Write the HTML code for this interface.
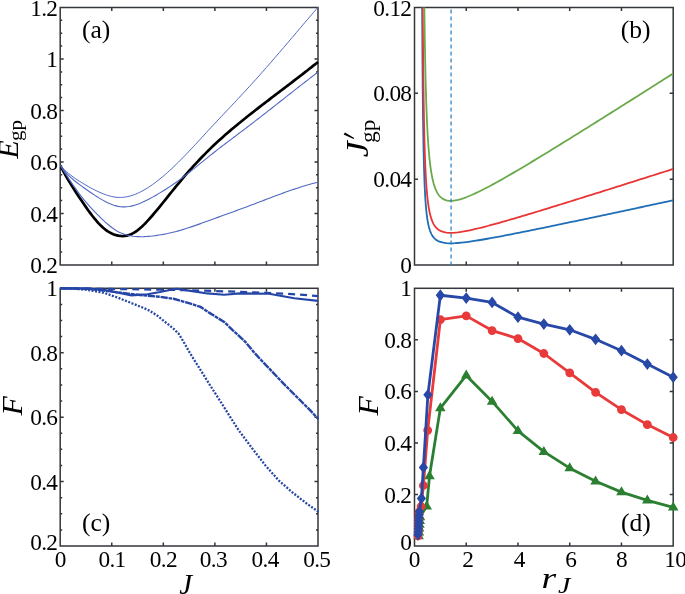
<!DOCTYPE html>
<html><head><meta charset="utf-8"><style>
html,body{margin:0;padding:0;background:#fff;}
svg{display:block;}
text{font-family:"Liberation Serif",serif;fill:#000;}
svg{will-change:transform;}
</style></head><body>
<svg width="685" height="594" viewBox="0 0 685 594">
<defs>
<clipPath id="cA"><rect x="60.20" y="6.50" width="258.80" height="258.50"/></clipPath>
<clipPath id="cC"><rect x="60.20" y="286.80" width="258.80" height="259.20"/></clipPath>
<clipPath id="cB"><rect x="414.50" y="7.50" width="258.70" height="257.50"/></clipPath>
<clipPath id="cD"><rect x="408.50" y="280.30" width="272.70" height="265.70"/></clipPath>
</defs>
<rect x="60.20" y="7.50" width="257.80" height="257.50" fill="none" stroke="#33363a" stroke-width="1.50"/>
<path d="M111.76,265.00v-3.50 M111.76,7.50v3.50 M163.32,265.00v-3.50 M163.32,7.50v3.50 M214.88,265.00v-3.50 M214.88,7.50v3.50 M266.44,265.00v-3.50 M266.44,7.50v3.50 M60.20,213.50h3.50 M318.00,213.50h-3.50 M60.20,162.00h3.50 M318.00,162.00h-3.50 M60.20,110.50h3.50 M318.00,110.50h-3.50 M60.20,59.00h3.50 M318.00,59.00h-3.50 M60.20,252.12h2.00 M318.00,252.12h-2.00 M60.20,239.25h2.00 M318.00,239.25h-2.00 M60.20,226.37h2.00 M318.00,226.37h-2.00 M60.20,200.62h2.00 M318.00,200.62h-2.00 M60.20,187.75h2.00 M318.00,187.75h-2.00 M60.20,174.87h2.00 M318.00,174.87h-2.00 M60.20,149.12h2.00 M318.00,149.12h-2.00 M60.20,136.25h2.00 M318.00,136.25h-2.00 M60.20,123.37h2.00 M318.00,123.37h-2.00 M60.20,97.62h2.00 M318.00,97.62h-2.00 M60.20,84.75h2.00 M318.00,84.75h-2.00 M60.20,71.88h2.00 M318.00,71.88h-2.00 M60.20,46.12h2.00 M318.00,46.12h-2.00 M60.20,33.25h2.00 M318.00,33.25h-2.00 M60.20,20.37h2.00 M318.00,20.37h-2.00" stroke="#33363a" stroke-width="1.5" fill="none"/>
<g clip-path="url(#cA)">
<path d="M60.20,165.35 L62.35,169.48 L64.50,173.44 L66.65,177.24 L68.79,180.89 L70.94,184.42 L73.09,187.84 L75.24,191.18 L77.39,194.45 L79.53,197.67 L81.68,200.86 L83.83,204.02 L85.98,207.13 L88.13,210.17 L90.28,213.12 L92.43,215.96 L94.57,218.67 L96.72,221.23 L98.87,223.61 L101.02,225.80 L103.17,227.77 L105.31,229.53 L107.46,231.07 L109.61,232.40 L111.76,233.52 L113.91,234.43 L116.06,235.14 L118.21,235.65 L120.35,235.96 L122.50,236.06 L124.65,235.94 L126.80,235.59 L128.95,235.02 L131.10,234.20 L133.24,233.14 L135.39,231.84 L137.54,230.32 L139.69,228.59 L141.84,226.69 L143.99,224.63 L146.13,222.44 L148.28,220.13 L150.43,217.73 L152.58,215.25 L154.73,212.72 L156.88,210.15 L159.02,207.54 L161.17,204.90 L163.32,202.25 L165.47,199.57 L167.62,196.89 L169.76,194.21 L171.91,191.53 L174.06,188.87 L176.21,186.22 L178.36,183.60 L180.51,181.02 L182.66,178.46 L184.80,175.95 L186.95,173.46 L189.10,171.01 L191.25,168.59 L193.40,166.21 L195.55,163.87 L197.69,161.55 L199.84,159.28 L201.99,157.03 L204.14,154.82 L206.29,152.65 L208.44,150.51 L210.58,148.41 L212.73,146.34 L214.88,144.30 L217.03,142.30 L219.18,140.33 L221.32,138.38 L223.47,136.46 L225.62,134.57 L227.77,132.70 L229.92,130.86 L232.07,129.03 L234.22,127.23 L236.36,125.45 L238.51,123.68 L240.66,121.93 L242.81,120.20 L244.96,118.47 L247.11,116.76 L249.25,115.06 L251.40,113.37 L253.55,111.69 L255.70,110.01 L257.85,108.34 L260.00,106.68 L262.14,105.02 L264.29,103.37 L266.44,101.72 L268.59,100.07 L270.74,98.43 L272.88,96.79 L275.03,95.15 L277.18,93.52 L279.33,91.88 L281.48,90.25 L283.63,88.61 L285.78,86.98 L287.92,85.34 L290.07,83.71 L292.22,82.07 L294.37,80.42 L296.52,78.78 L298.67,77.13 L300.81,75.47 L302.96,73.81 L305.11,72.14 L307.26,70.47 L309.41,68.79 L311.56,67.11 L313.70,65.41 L315.85,63.71 L318.00,62.00" stroke="#000" stroke-width="2.7" fill="none" stroke-linejoin="round"/>
<path d="M60.20,165.48 L62.35,167.75 L64.50,169.86 L66.65,171.82 L68.79,173.64 L70.94,175.34 L73.09,176.94 L75.24,178.45 L77.39,179.88 L79.53,181.27 L81.68,182.61 L83.83,183.92 L85.98,185.20 L88.13,186.44 L90.28,187.63 L92.43,188.79 L94.57,189.89 L96.72,190.95 L98.87,191.95 L101.02,192.89 L103.17,193.77 L105.31,194.58 L107.46,195.31 L109.61,195.95 L111.76,196.49 L113.91,196.91 L116.06,197.22 L118.21,197.39 L120.35,197.43 L122.50,197.34 L124.65,197.12 L126.80,196.78 L128.95,196.32 L131.10,195.74 L133.24,195.05 L135.39,194.25 L137.54,193.35 L139.69,192.35 L141.84,191.25 L143.99,190.06 L146.13,188.79 L148.28,187.44 L150.43,186.01 L152.58,184.52 L154.73,182.96 L156.88,181.34 L159.02,179.66 L161.17,177.92 L163.32,176.13 L165.47,174.28 L167.62,172.39 L169.76,170.44 L171.91,168.46 L174.06,166.42 L176.21,164.35 L178.36,162.24 L180.51,160.09 L182.66,157.91 L184.80,155.70 L186.95,153.46 L189.10,151.20 L191.25,148.92 L193.40,146.62 L195.55,144.31 L197.69,141.99 L199.84,139.66 L201.99,137.32 L204.14,134.99 L206.29,132.65 L208.44,130.32 L210.58,128.00 L212.73,125.69 L214.88,123.39 L217.03,121.10 L219.18,118.81 L221.32,116.52 L223.47,114.24 L225.62,111.96 L227.77,109.69 L229.92,107.41 L232.07,105.13 L234.22,102.84 L236.36,100.56 L238.51,98.26 L240.66,95.96 L242.81,93.65 L244.96,91.33 L247.11,89.00 L249.25,86.66 L251.40,84.30 L253.55,81.93 L255.70,79.54 L257.85,77.14 L260.00,74.73 L262.14,72.31 L264.29,69.87 L266.44,67.42 L268.59,64.97 L270.74,62.50 L272.88,60.02 L275.03,57.54 L277.18,55.05 L279.33,52.55 L281.48,50.05 L283.63,47.54 L285.78,45.02 L287.92,42.51 L290.07,39.98 L292.22,37.46 L294.37,34.93 L296.52,32.40 L298.67,29.87 L300.81,27.34 L302.96,24.81 L305.11,22.28 L307.26,19.75 L309.41,17.22 L311.56,14.70 L313.70,12.18 L315.85,9.67 L318.00,7.16" stroke="#5068c4" stroke-width="1.0" fill="none"/>
<path d="M60.20,165.35 L62.35,168.25 L64.50,170.90 L66.65,173.32 L68.79,175.54 L70.94,177.58 L73.09,179.48 L75.24,181.26 L77.39,182.95 L79.53,184.58 L81.68,186.17 L83.83,187.74 L85.98,189.28 L88.13,190.80 L90.28,192.29 L92.43,193.74 L94.57,195.16 L96.72,196.53 L98.87,197.86 L101.02,199.14 L103.17,200.37 L105.31,201.54 L107.46,202.63 L109.61,203.62 L111.76,204.51 L113.91,205.27 L116.06,205.89 L118.21,206.36 L120.35,206.68 L122.50,206.84 L124.65,206.87 L126.80,206.75 L128.95,206.50 L131.10,206.12 L133.24,205.62 L135.39,205.00 L137.54,204.28 L139.69,203.47 L141.84,202.57 L143.99,201.59 L146.13,200.54 L148.28,199.44 L150.43,198.30 L152.58,197.11 L154.73,195.90 L156.88,194.66 L159.02,193.40 L161.17,192.10 L163.32,190.78 L165.47,189.43 L167.62,188.05 L169.76,186.64 L171.91,185.19 L174.06,183.72 L176.21,182.21 L178.36,180.66 L180.51,179.09 L182.66,177.48 L184.80,175.84 L186.95,174.17 L189.10,172.48 L191.25,170.78 L193.40,169.06 L195.55,167.33 L197.69,165.59 L199.84,163.84 L201.99,162.10 L204.14,160.35 L206.29,158.61 L208.44,156.89 L210.58,155.17 L212.73,153.47 L214.88,151.78 L217.03,150.10 L219.18,148.43 L221.32,146.78 L223.47,145.13 L225.62,143.49 L227.77,141.85 L229.92,140.23 L232.07,138.60 L234.22,136.98 L236.36,135.36 L238.51,133.74 L240.66,132.12 L242.81,130.50 L244.96,128.87 L247.11,127.24 L249.25,125.61 L251.40,123.97 L253.55,122.32 L255.70,120.67 L257.85,119.01 L260.00,117.35 L262.14,115.68 L264.29,114.00 L266.44,112.33 L268.59,110.64 L270.74,108.96 L272.88,107.27 L275.03,105.58 L277.18,103.89 L279.33,102.20 L281.48,100.51 L283.63,98.82 L285.78,97.13 L287.92,95.43 L290.07,93.74 L292.22,92.06 L294.37,90.37 L296.52,88.69 L298.67,87.01 L300.81,85.33 L302.96,83.66 L305.11,81.99 L307.26,80.33 L309.41,78.68 L311.56,77.03 L313.70,75.38 L315.85,73.75 L318.00,72.12" stroke="#5068c4" stroke-width="1.1" fill="none"/>
<path d="M60.20,165.35 L62.35,168.74 L64.50,172.11 L66.65,175.43 L68.79,178.71 L70.94,181.93 L73.09,185.08 L75.24,188.16 L77.39,191.15 L79.53,194.05 L81.68,196.85 L83.83,199.54 L85.98,202.14 L88.13,204.64 L90.28,207.05 L92.43,209.39 L94.57,211.65 L96.72,213.85 L98.87,215.98 L101.02,218.07 L103.17,220.10 L105.31,222.08 L107.46,223.98 L109.61,225.78 L111.76,227.47 L113.91,229.02 L116.06,230.42 L118.21,231.65 L120.35,232.71 L122.50,233.61 L124.65,234.36 L126.80,234.99 L128.95,235.50 L131.10,235.90 L133.24,236.21 L135.39,236.43 L137.54,236.58 L139.69,236.66 L141.84,236.68 L143.99,236.63 L146.13,236.53 L148.28,236.38 L150.43,236.19 L152.58,235.96 L154.73,235.69 L156.88,235.40 L159.02,235.08 L161.17,234.73 L163.32,234.34 L165.47,233.93 L167.62,233.49 L169.76,233.02 L171.91,232.52 L174.06,232.00 L176.21,231.44 L178.36,230.86 L180.51,230.26 L182.66,229.62 L184.80,228.96 L186.95,228.29 L189.10,227.59 L191.25,226.87 L193.40,226.14 L195.55,225.39 L197.69,224.64 L199.84,223.87 L201.99,223.10 L204.14,222.32 L206.29,221.54 L208.44,220.76 L210.58,219.97 L212.73,219.19 L214.88,218.41 L217.03,217.64 L219.18,216.86 L221.32,216.08 L223.47,215.30 L225.62,214.53 L227.77,213.75 L229.92,212.97 L232.07,212.19 L234.22,211.40 L236.36,210.62 L238.51,209.83 L240.66,209.04 L242.81,208.25 L244.96,207.46 L247.11,206.66 L249.25,205.85 L251.40,205.04 L253.55,204.23 L255.70,203.41 L257.85,202.60 L260.00,201.77 L262.14,200.95 L264.29,200.13 L266.44,199.31 L268.59,198.49 L270.74,197.67 L272.88,196.86 L275.03,196.05 L277.18,195.25 L279.33,194.45 L281.48,193.66 L283.63,192.88 L285.78,192.10 L287.92,191.34 L290.07,190.59 L292.22,189.84 L294.37,189.11 L296.52,188.40 L298.67,187.70 L300.81,187.01 L302.96,186.34 L305.11,185.69 L307.26,185.05 L309.41,184.43 L311.56,183.84 L313.70,183.26 L315.85,182.70 L318.00,182.17" stroke="#5068c4" stroke-width="1.1" fill="none"/>
</g>
<text transform="translate(57.30,273.04) scale(1,1.000)" text-anchor="end" font-size="23.30" letter-spacing="-0.7">0.2</text>
<text transform="translate(57.30,221.54) scale(1,1.000)" text-anchor="end" font-size="23.30" letter-spacing="-0.7">0.4</text>
<text transform="translate(57.30,170.04) scale(1,1.000)" text-anchor="end" font-size="23.30" letter-spacing="-0.7">0.6</text>
<text transform="translate(57.30,118.54) scale(1,1.000)" text-anchor="end" font-size="23.30" letter-spacing="-0.7">0.8</text>
<text transform="translate(57.30,67.04) scale(1,1.000)" text-anchor="end" font-size="23.30" letter-spacing="-0.7">1</text>
<text transform="translate(57.30,15.54) scale(1,1.000)" text-anchor="end" font-size="23.30" letter-spacing="-0.7">1.2</text>
<text transform="translate(81.90,38.30) scale(1,1.000)" text-anchor="start" font-size="25.60" >(a)</text>
<rect x="60.20" y="288.30" width="257.80" height="257.70" fill="none" stroke="#33363a" stroke-width="1.50"/>
<path d="M111.76,546.00v-3.50 M111.76,288.30v3.50 M163.32,546.00v-3.50 M163.32,288.30v3.50 M214.88,546.00v-3.50 M214.88,288.30v3.50 M266.44,546.00v-3.50 M266.44,288.30v3.50 M60.20,481.57h3.50 M318.00,481.57h-3.50 M60.20,417.15h3.50 M318.00,417.15h-3.50 M60.20,352.73h3.50 M318.00,352.73h-3.50 M60.20,529.89h2.00 M318.00,529.89h-2.00 M60.20,513.79h2.00 M318.00,513.79h-2.00 M60.20,497.68h2.00 M318.00,497.68h-2.00 M60.20,465.47h2.00 M318.00,465.47h-2.00 M60.20,449.36h2.00 M318.00,449.36h-2.00 M60.20,433.26h2.00 M318.00,433.26h-2.00 M60.20,401.04h2.00 M318.00,401.04h-2.00 M60.20,384.94h2.00 M318.00,384.94h-2.00 M60.20,368.83h2.00 M318.00,368.83h-2.00 M60.20,336.62h2.00 M318.00,336.62h-2.00 M60.20,320.51h2.00 M318.00,320.51h-2.00 M60.20,304.41h2.00 M318.00,304.41h-2.00" stroke="#33363a" stroke-width="1.5" fill="none"/>
<g clip-path="url(#cC)">
<path d="M60.20,288.30 L74.59,288.69 L89.18,290.14 L103.82,292.75 L118.41,297.87 L133.00,303.70 L147.59,309.56 L156.82,315.29 L165.23,322.03 L173.68,328.76 L178.74,333.82 L183.79,342.22 L190.49,354.01 L198.95,367.48 L209.88,385.00 L219.98,400.72 L228.44,414.19 L238.49,430.00 L253.65,450.30 L265.46,465.47 L278.92,480.61 L292.37,492.40 L307.53,504.19 L318.46,511.76" stroke="#2546a6" stroke-width="2.3" fill="none" stroke-dasharray="2 1.5"/>
<path d="M60.20,288.30 L91.14,288.94 L103.82,290.55 L118.41,292.46 L133.00,294.23 L147.59,295.68 L160.02,296.84 L173.68,298.80 L187.14,302.67 L200.60,306.89 L210.70,313.62 L224.16,322.03 L232.62,330.02 L245.25,341.77 L253.65,351.89 L260.00,358.85 L272.63,372.12 L285.26,385.36 L297.89,398.02 L310.52,410.64 L318.46,419.21" stroke="#2546a6" stroke-width="2.4" fill="none" stroke-dasharray="7.3 0.8 3.7 0.8"/>
<path d="M60.20,288.30 L111.76,288.94 L163.32,289.75 L190.13,290.23 L225.19,291.36 L266.44,292.81 L292.22,294.10 L318.00,296.03" stroke="#2546a6" stroke-width="2.2" fill="none" stroke-dasharray="7 5"/>
<path d="M60.20,288.30 L85.98,288.62 L103.82,289.85 L118.41,292.75 L131.51,295.39 L147.59,294.23 L160.02,292.04 L176.21,288.72 L190.49,290.88 L207.35,293.42 L224.16,294.77 L239.99,293.42 L269.02,293.78 L294.28,298.29 L318.00,300.86" stroke="#2546a6" stroke-width="2.1" fill="none" stroke-linejoin="round"/>
</g>
<text transform="translate(57.30,550.04) scale(1,1.000)" text-anchor="end" font-size="23.30" letter-spacing="-0.7">0.2</text>
<text transform="translate(57.30,489.61) scale(1,1.000)" text-anchor="end" font-size="23.30" letter-spacing="-0.7">0.4</text>
<text transform="translate(57.30,425.19) scale(1,1.000)" text-anchor="end" font-size="23.30" letter-spacing="-0.7">0.6</text>
<text transform="translate(57.30,360.76) scale(1,1.000)" text-anchor="end" font-size="23.30" letter-spacing="-0.7">0.8</text>
<text transform="translate(57.30,296.34) scale(1,1.000)" text-anchor="end" font-size="23.30" letter-spacing="-0.7">1</text>
<text transform="translate(60.20,567.38) scale(1,1.000)" text-anchor="middle" font-size="23.30" letter-spacing="-0.7">0</text>
<text transform="translate(112.06,567.38) scale(1,1.000)" text-anchor="middle" font-size="23.30" letter-spacing="-0.7">0.1</text>
<text transform="translate(163.32,567.38) scale(1,1.000)" text-anchor="middle" font-size="23.30" letter-spacing="-0.7">0.2</text>
<text transform="translate(213.38,567.38) scale(1,1.000)" text-anchor="middle" font-size="23.30" letter-spacing="-0.7">0.3</text>
<text transform="translate(265.14,567.38) scale(1,1.000)" text-anchor="middle" font-size="23.30" letter-spacing="-0.7">0.4</text>
<text transform="translate(316.70,567.38) scale(1,1.000)" text-anchor="middle" font-size="23.30" letter-spacing="-0.7">0.5</text>
<text transform="translate(81.90,531.40) scale(1,1.000)" text-anchor="start" font-size="25.60" >(c)</text>
<rect x="414.50" y="7.50" width="258.70" height="257.50" fill="none" stroke="#33363a" stroke-width="1.50"/>
<path d="M466.24,265.00v-3.50 M466.24,7.50v3.50 M517.98,265.00v-3.50 M517.98,7.50v3.50 M569.72,265.00v-3.50 M569.72,7.50v3.50 M621.46,265.00v-3.50 M621.46,7.50v3.50 M414.50,179.17h3.50 M673.20,179.17h-3.50 M414.50,93.33h3.50 M673.20,93.33h-3.50" stroke="#33363a" stroke-width="1.5" fill="none"/>
<g clip-path="url(#cB)">
<path d="M421.48,-241.70 L421.64,-154.01 L421.80,-89.05 L421.96,-39.47 L422.12,-0.69 L422.28,30.27 L422.44,55.43 L422.60,76.18 L422.75,93.52 L422.91,108.17 L423.07,120.69 L423.23,131.47 L423.39,140.84 L423.55,149.04 L423.71,156.26 L423.87,162.65 L424.02,168.35 L424.18,173.45 L424.34,178.04 L424.50,182.18 L424.66,185.94 L424.82,189.36 L424.98,192.48 L425.13,195.34 L425.29,197.97 L425.45,200.39 L425.61,202.62 L425.77,204.69 L425.93,206.61 L426.09,208.40 L426.25,210.06 L426.40,211.61 L426.56,213.07 L426.72,214.43 L426.88,215.71 L427.04,216.91 L427.20,218.04 L427.36,219.10 L427.52,220.10 L427.67,221.05 L427.83,221.95 L427.99,222.80 L428.15,223.61 L428.31,224.37 L428.47,225.10 L428.63,225.79 L428.79,226.45 L428.94,227.08 L429.10,227.68 L429.26,228.25 L429.42,228.79 L429.58,229.31 L429.74,229.81 L429.90,230.29 L430.05,230.74 L430.21,231.18 L430.37,231.60 L430.53,232.00 L430.69,232.39 L430.85,232.76 L431.01,233.12 L431.17,233.46 L431.32,233.79 L431.48,234.11 L431.64,234.41 L431.80,234.71 L431.96,234.99 L432.12,235.26 L432.28,235.53 L432.44,235.78 L432.59,236.03 L432.75,236.26 L432.91,236.49 L433.07,236.71 L433.23,236.93 L433.39,237.13 L433.55,237.33 L433.70,237.53 L433.86,237.71 L434.02,237.89 L434.18,238.07 L434.34,238.24 L434.50,238.40 L434.66,238.56 L434.82,238.72 L434.97,238.86 L435.13,239.01 L435.29,239.15 L435.45,239.29 L435.61,239.42 L435.77,239.54 L435.93,239.67 L436.09,239.79 L436.24,239.91 L436.40,240.02 L436.56,240.13 L436.72,240.23 L436.88,240.34 L437.04,240.44 L437.20,240.54 L437.35,240.63 L437.51,240.72 L437.67,240.81 L437.83,240.90 L437.99,240.98 L438.15,241.06 L438.31,241.14 L438.47,241.22 L438.62,241.29 L438.78,241.37 L438.94,241.44 L439.10,241.51 L439.26,241.57 L439.42,241.64 L439.58,241.70 L439.74,241.76 L439.89,241.82 L440.05,241.88 L440.21,241.93 L440.37,241.99 L443.32,242.74 L446.26,243.14 L449.21,243.31 L452.16,243.31 L455.11,243.20 L458.05,242.99 L461.00,242.72 L463.95,242.39 L466.89,242.02 L469.84,241.62 L472.79,241.19 L475.74,240.73 L478.68,240.26 L481.63,239.76 L484.58,239.26 L487.53,238.74 L490.47,238.21 L493.42,237.67 L496.37,237.13 L499.31,236.57 L502.26,236.01 L505.21,235.45 L508.16,234.87 L511.10,234.30 L514.05,233.72 L517.00,233.13 L519.94,232.55 L522.89,231.96 L525.84,231.36 L528.79,230.77 L531.73,230.17 L534.68,229.57 L537.63,228.97 L540.58,228.36 L543.52,227.76 L546.47,227.15 L549.42,226.54 L552.36,225.93 L555.31,225.32 L558.26,224.71 L561.21,224.09 L564.15,223.48 L567.10,222.86 L570.05,222.24 L572.99,221.63 L575.94,221.01 L578.89,220.39 L581.84,219.77 L584.78,219.15 L587.73,218.52 L590.68,217.90 L593.63,217.28 L596.57,216.66 L599.52,216.03 L602.47,215.41 L605.41,214.78 L608.36,214.16 L611.31,213.53 L614.26,212.90 L617.20,212.28 L620.15,211.65 L623.10,211.02 L626.04,210.40 L628.99,209.77 L631.94,209.14 L634.89,208.51 L637.83,207.88 L640.78,207.25 L643.73,206.62 L646.68,205.99 L649.62,205.36 L652.57,204.73 L655.52,204.10 L658.46,203.47 L661.41,202.84 L664.36,202.21 L667.31,201.58 L670.25,200.95 L673.20,200.31" stroke="#1f6eb6" stroke-width="1.8" fill="none"/>
<path d="M421.48,-487.52 L421.64,-357.29 L421.80,-260.81 L421.96,-187.18 L422.12,-129.59 L422.28,-83.61 L422.44,-46.24 L422.60,-15.43 L422.75,10.32 L422.91,32.09 L423.07,50.68 L423.23,66.69 L423.39,80.61 L423.55,92.78 L423.71,103.50 L423.87,113.00 L424.02,121.46 L424.18,129.03 L424.34,135.85 L424.50,142.00 L424.66,147.58 L424.82,152.66 L424.98,157.29 L425.13,161.54 L425.29,165.44 L425.45,169.04 L425.61,172.36 L425.77,175.43 L425.93,178.28 L426.09,180.94 L426.25,183.41 L426.40,185.72 L426.56,187.87 L426.72,189.89 L426.88,191.79 L427.04,193.57 L427.20,195.25 L427.36,196.83 L427.52,198.32 L427.67,199.73 L427.83,201.07 L427.99,202.33 L428.15,203.53 L428.31,204.67 L428.47,205.74 L428.63,206.77 L428.79,207.75 L428.94,208.68 L429.10,209.57 L429.26,210.42 L429.42,211.23 L429.58,212.00 L429.74,212.74 L429.90,213.45 L430.05,214.12 L430.21,214.77 L430.37,215.40 L430.53,215.99 L430.69,216.57 L430.85,217.12 L431.01,217.65 L431.17,218.16 L431.32,218.65 L431.48,219.12 L431.64,219.57 L431.80,220.01 L431.96,220.43 L432.12,220.84 L432.28,221.23 L432.44,221.61 L432.59,221.97 L432.75,222.32 L432.91,222.66 L433.07,222.99 L433.23,223.31 L433.39,223.62 L433.55,223.91 L433.70,224.20 L433.86,224.48 L434.02,224.74 L434.18,225.00 L434.34,225.26 L434.50,225.50 L434.66,225.74 L434.82,225.96 L434.97,226.19 L435.13,226.40 L435.29,226.61 L435.45,226.81 L435.61,227.01 L435.77,227.20 L435.93,227.38 L436.09,227.56 L436.24,227.73 L436.40,227.90 L436.56,228.06 L436.72,228.22 L436.88,228.37 L437.04,228.52 L437.20,228.67 L437.35,228.81 L437.51,228.94 L437.67,229.08 L437.83,229.20 L437.99,229.33 L438.15,229.45 L438.31,229.57 L438.47,229.68 L438.62,229.79 L438.78,229.90 L438.94,230.01 L439.10,230.11 L439.26,230.21 L439.42,230.30 L439.58,230.40 L439.74,230.49 L439.89,230.57 L440.05,230.66 L440.21,230.74 L440.37,230.82 L443.32,231.94 L446.26,232.54 L449.21,232.79 L452.16,232.79 L455.11,232.62 L458.05,232.31 L461.00,231.91 L463.95,231.42 L466.89,230.88 L469.84,230.28 L472.79,229.63 L475.74,228.96 L478.68,228.25 L481.63,227.52 L484.58,226.77 L487.53,226.00 L490.47,225.21 L493.42,224.41 L496.37,223.60 L499.31,222.78 L502.26,221.95 L505.21,221.11 L508.16,220.26 L511.10,219.40 L514.05,218.54 L517.00,217.68 L519.94,216.80 L522.89,215.93 L525.84,215.05 L528.79,214.16 L531.73,213.27 L534.68,212.38 L537.63,211.49 L540.58,210.59 L543.52,209.69 L546.47,208.79 L549.42,207.88 L552.36,206.98 L555.31,206.07 L558.26,205.16 L561.21,204.24 L564.15,203.33 L567.10,202.42 L570.05,201.50 L572.99,200.58 L575.94,199.66 L578.89,198.74 L581.84,197.82 L584.78,196.90 L587.73,195.98 L590.68,195.05 L593.63,194.13 L596.57,193.20 L599.52,192.27 L602.47,191.35 L605.41,190.42 L608.36,189.49 L611.31,188.56 L614.26,187.63 L617.20,186.70 L620.15,185.77 L623.10,184.84 L626.04,183.90 L628.99,182.97 L631.94,182.04 L634.89,181.10 L637.83,180.17 L640.78,179.23 L643.73,178.30 L646.68,177.36 L649.62,176.43 L652.57,175.49 L655.52,174.56 L658.46,173.62 L661.41,172.68 L664.36,171.74 L667.31,170.81 L670.25,169.87 L673.20,168.93" stroke="#e83535" stroke-width="1.8" fill="none"/>
<path d="M421.48,-1235.03 L421.64,-975.43 L421.80,-783.12 L421.96,-636.35 L422.12,-521.55 L422.28,-429.89 L422.44,-355.41 L422.60,-293.99 L422.75,-242.66 L422.91,-199.26 L423.07,-162.21 L423.23,-130.29 L423.39,-102.56 L423.55,-78.30 L423.71,-56.93 L423.87,-37.99 L424.02,-21.13 L424.18,-6.03 L424.34,7.55 L424.50,19.82 L424.66,30.94 L424.82,41.06 L424.98,50.31 L425.13,58.77 L425.29,66.55 L425.45,73.72 L425.61,80.33 L425.77,86.46 L425.93,92.15 L426.09,97.43 L426.25,102.36 L426.40,106.96 L426.56,111.26 L426.72,115.29 L426.88,119.07 L427.04,122.62 L427.20,125.97 L427.36,129.12 L427.52,132.09 L427.67,134.90 L427.83,137.56 L427.99,140.08 L428.15,142.47 L428.31,144.73 L428.47,146.89 L428.63,148.93 L428.79,150.88 L428.94,152.74 L429.10,154.51 L429.26,156.20 L429.42,157.81 L429.58,159.35 L429.74,160.83 L429.90,162.24 L430.05,163.59 L430.21,164.88 L430.37,166.12 L430.53,167.32 L430.69,168.46 L430.85,169.56 L431.01,170.61 L431.17,171.63 L431.32,172.60 L431.48,173.54 L431.64,174.45 L431.80,175.32 L431.96,176.16 L432.12,176.97 L432.28,177.75 L432.44,178.50 L432.59,179.23 L432.75,179.93 L432.91,180.61 L433.07,181.26 L433.23,181.89 L433.39,182.51 L433.55,183.10 L433.70,183.67 L433.86,184.22 L434.02,184.76 L434.18,185.28 L434.34,185.78 L434.50,186.26 L434.66,186.73 L434.82,187.19 L434.97,187.63 L435.13,188.06 L435.29,188.47 L435.45,188.87 L435.61,189.26 L435.77,189.64 L435.93,190.01 L436.09,190.37 L436.24,190.71 L436.40,191.04 L436.56,191.37 L436.72,191.69 L436.88,191.99 L437.04,192.29 L437.20,192.58 L437.35,192.86 L437.51,193.13 L437.67,193.39 L437.83,193.65 L437.99,193.90 L438.15,194.14 L438.31,194.37 L438.47,194.60 L438.62,194.82 L438.78,195.04 L438.94,195.25 L439.10,195.45 L439.26,195.65 L439.42,195.84 L439.58,196.02 L439.74,196.20 L439.89,196.38 L440.05,196.55 L440.21,196.71 L440.37,196.87 L443.32,199.10 L446.26,200.29 L449.21,200.79 L452.16,200.80 L455.11,200.45 L458.05,199.85 L461.00,199.04 L463.95,198.07 L466.89,196.98 L469.84,195.78 L472.79,194.50 L475.74,193.16 L478.68,191.75 L481.63,190.29 L484.58,188.80 L487.53,187.26 L490.47,185.69 L493.42,184.10 L496.37,182.48 L499.31,180.84 L502.26,179.18 L505.21,177.51 L508.16,175.82 L511.10,174.11 L514.05,172.39 L517.00,170.67 L519.94,168.93 L522.89,167.18 L525.84,165.42 L528.79,163.66 L531.73,161.89 L534.68,160.11 L537.63,158.33 L540.58,156.54 L543.52,154.75 L546.47,152.95 L549.42,151.15 L552.36,149.34 L555.31,147.53 L558.26,145.71 L561.21,143.89 L564.15,142.07 L567.10,140.25 L570.05,138.42 L572.99,136.59 L575.94,134.76 L578.89,132.93 L581.84,131.09 L584.78,129.25 L587.73,127.41 L590.68,125.57 L593.63,123.73 L596.57,121.88 L599.52,120.03 L602.47,118.18 L605.41,116.33 L608.36,114.48 L611.31,112.63 L614.26,110.78 L617.20,108.92 L620.15,107.06 L623.10,105.21 L626.04,103.35 L628.99,101.49 L631.94,99.63 L634.89,97.77 L637.83,95.90 L640.78,94.04 L643.73,92.18 L646.68,90.31 L649.62,88.45 L652.57,86.58 L655.52,84.72 L658.46,82.85 L661.41,80.98 L664.36,79.11 L667.31,77.24 L670.25,75.37 L673.20,73.50" stroke="#6aaa4b" stroke-width="1.8" fill="none"/>
<path d="M451.08,9.50V265.00" stroke="#2f86cc" stroke-width="1.3" stroke-dasharray="4 3" fill="none"/>
</g>
<text transform="translate(411.30,273.04) scale(1,1.000)" text-anchor="end" font-size="23.30" letter-spacing="-0.7">0</text>
<text transform="translate(411.30,187.21) scale(1,1.000)" text-anchor="end" font-size="23.30" letter-spacing="-0.7">0.04</text>
<text transform="translate(411.30,101.37) scale(1,1.000)" text-anchor="end" font-size="23.30" letter-spacing="-0.7">0.08</text>
<text transform="translate(411.30,15.54) scale(1,1.000)" text-anchor="end" font-size="23.30" letter-spacing="-0.7">0.12</text>
<text transform="translate(620.70,38.30) scale(1,1.000)" text-anchor="start" font-size="25.60" >(b)</text>
<rect x="414.50" y="288.30" width="258.70" height="257.70" fill="none" stroke="#33363a" stroke-width="1.50"/>
<path d="M466.24,546.00v-3.50 M466.24,288.30v3.50 M517.98,546.00v-3.50 M517.98,288.30v3.50 M569.72,546.00v-3.50 M569.72,288.30v3.50 M621.46,546.00v-3.50 M621.46,288.30v3.50 M414.50,494.46h3.50 M673.20,494.46h-3.50 M414.50,442.92h3.50 M673.20,442.92h-3.50 M414.50,391.38h3.50 M673.20,391.38h-3.50 M414.50,339.84h3.50 M673.20,339.84h-3.50" stroke="#33363a" stroke-width="1.5" fill="none"/>
<g clip-path="url(#cD)">
<path d="M418.60,536.00 L418.88,532.20 L419.16,528.40 L419.44,524.60 L419.72,520.80 L420.00,517.00 L426.70,506.20 L429.50,476.00 L440.37,408.13 L466.24,375.40 L492.11,401.43 L517.98,430.81 L543.85,451.68 L569.72,468.17 L595.59,481.32 L621.46,492.14 L647.33,500.39 L673.20,507.35" stroke="#2b7f30" stroke-width="2.8" fill="none" stroke-linejoin="round"/>
<path d="M418.60,530.20l5.3,9.0l-10.6,0zM418.88,526.40l5.3,9.0l-10.6,0zM419.16,522.60l5.3,9.0l-10.6,0zM419.44,518.80l5.3,9.0l-10.6,0zM419.72,515.00l5.3,9.0l-10.6,0zM420.00,511.20l5.3,9.0l-10.6,0zM426.70,500.40l5.3,9.0l-10.6,0zM429.50,470.20l5.3,9.0l-10.6,0zM440.37,402.33l5.3,9.0l-10.6,0zM466.24,369.60l5.3,9.0l-10.6,0zM492.11,395.63l5.3,9.0l-10.6,0zM517.98,425.01l5.3,9.0l-10.6,0zM543.85,445.88l5.3,9.0l-10.6,0zM569.72,462.37l5.3,9.0l-10.6,0zM595.59,475.52l5.3,9.0l-10.6,0zM621.46,486.34l5.3,9.0l-10.6,0zM647.33,494.59l5.3,9.0l-10.6,0zM673.20,501.55l5.3,9.0l-10.6,0z" fill="#2b7f30"/>
<path d="M418.00,536.00 L418.14,532.57 L418.29,529.14 L418.43,525.71 L418.57,522.29 L418.71,518.86 L418.86,515.43 L419.00,512.00 L421.10,506.50 L423.40,485.50 L427.70,430.30 L440.37,319.74 L466.24,315.87 L492.11,330.56 L517.98,338.55 L543.85,353.50 L569.72,372.83 L595.59,392.41 L621.46,409.68 L647.33,424.62 L673.20,437.51" stroke="#e83a3a" stroke-width="2.8" fill="none" stroke-linejoin="round"/>
<path d="M413.60,536.00a4.4,4.4 0 1,0 8.8,0a4.4,4.4 0 1,0 -8.8,0zM413.74,532.57a4.4,4.4 0 1,0 8.8,0a4.4,4.4 0 1,0 -8.8,0zM413.89,529.14a4.4,4.4 0 1,0 8.8,0a4.4,4.4 0 1,0 -8.8,0zM414.03,525.71a4.4,4.4 0 1,0 8.8,0a4.4,4.4 0 1,0 -8.8,0zM414.17,522.29a4.4,4.4 0 1,0 8.8,0a4.4,4.4 0 1,0 -8.8,0zM414.31,518.86a4.4,4.4 0 1,0 8.8,0a4.4,4.4 0 1,0 -8.8,0zM414.46,515.43a4.4,4.4 0 1,0 8.8,0a4.4,4.4 0 1,0 -8.8,0zM414.60,512.00a4.4,4.4 0 1,0 8.8,0a4.4,4.4 0 1,0 -8.8,0zM416.70,506.50a4.4,4.4 0 1,0 8.8,0a4.4,4.4 0 1,0 -8.8,0zM419.00,485.50a4.4,4.4 0 1,0 8.8,0a4.4,4.4 0 1,0 -8.8,0zM423.30,430.30a4.4,4.4 0 1,0 8.8,0a4.4,4.4 0 1,0 -8.8,0zM435.97,319.74a4.4,4.4 0 1,0 8.8,0a4.4,4.4 0 1,0 -8.8,0zM461.84,315.87a4.4,4.4 0 1,0 8.8,0a4.4,4.4 0 1,0 -8.8,0zM487.71,330.56a4.4,4.4 0 1,0 8.8,0a4.4,4.4 0 1,0 -8.8,0zM513.58,338.55a4.4,4.4 0 1,0 8.8,0a4.4,4.4 0 1,0 -8.8,0zM539.45,353.50a4.4,4.4 0 1,0 8.8,0a4.4,4.4 0 1,0 -8.8,0zM565.32,372.83a4.4,4.4 0 1,0 8.8,0a4.4,4.4 0 1,0 -8.8,0zM591.19,392.41a4.4,4.4 0 1,0 8.8,0a4.4,4.4 0 1,0 -8.8,0zM617.06,409.68a4.4,4.4 0 1,0 8.8,0a4.4,4.4 0 1,0 -8.8,0zM642.93,424.62a4.4,4.4 0 1,0 8.8,0a4.4,4.4 0 1,0 -8.8,0zM668.80,437.51a4.4,4.4 0 1,0 8.8,0a4.4,4.4 0 1,0 -8.8,0z" fill="#e83a3a"/>
<path d="M418.00,534.50 L418.18,531.66 L418.35,528.83 L418.52,525.99 L418.70,523.15 L418.88,520.31 L419.05,517.48 L419.22,514.64 L419.40,511.80 L421.40,498.40 L423.40,467.40 L427.90,394.80 L440.37,295.26 L466.24,298.09 L492.11,302.47 L517.98,317.16 L543.85,324.12 L569.72,329.79 L595.59,339.32 L621.46,350.66 L647.33,364.06 L673.20,377.21" stroke="#2848a8" stroke-width="2.8" fill="none" stroke-linejoin="round"/>
<path d="M418.00,528.60l4.6,5.9l-4.6,5.9l-4.6,-5.9zM418.18,525.76l4.6,5.9l-4.6,5.9l-4.6,-5.9zM418.35,522.93l4.6,5.9l-4.6,5.9l-4.6,-5.9zM418.52,520.09l4.6,5.9l-4.6,5.9l-4.6,-5.9zM418.70,517.25l4.6,5.9l-4.6,5.9l-4.6,-5.9zM418.88,514.41l4.6,5.9l-4.6,5.9l-4.6,-5.9zM419.05,511.58l4.6,5.9l-4.6,5.9l-4.6,-5.9zM419.22,508.74l4.6,5.9l-4.6,5.9l-4.6,-5.9zM419.40,505.90l4.6,5.9l-4.6,5.9l-4.6,-5.9zM421.40,492.50l4.6,5.9l-4.6,5.9l-4.6,-5.9zM423.40,461.50l4.6,5.9l-4.6,5.9l-4.6,-5.9zM427.90,388.90l4.6,5.9l-4.6,5.9l-4.6,-5.9zM440.37,289.36l4.6,5.9l-4.6,5.9l-4.6,-5.9zM466.24,292.19l4.6,5.9l-4.6,5.9l-4.6,-5.9zM492.11,296.57l4.6,5.9l-4.6,5.9l-4.6,-5.9zM517.98,311.26l4.6,5.9l-4.6,5.9l-4.6,-5.9zM543.85,318.22l4.6,5.9l-4.6,5.9l-4.6,-5.9zM569.72,323.89l4.6,5.9l-4.6,5.9l-4.6,-5.9zM595.59,333.42l4.6,5.9l-4.6,5.9l-4.6,-5.9zM621.46,344.76l4.6,5.9l-4.6,5.9l-4.6,-5.9zM647.33,358.16l4.6,5.9l-4.6,5.9l-4.6,-5.9zM673.20,371.31l4.6,5.9l-4.6,5.9l-4.6,-5.9z" fill="#2848a8"/>
</g>
<text transform="translate(411.30,550.04) scale(1,1.000)" text-anchor="end" font-size="23.30" letter-spacing="-0.7">0</text>
<text transform="translate(411.30,502.50) scale(1,1.000)" text-anchor="end" font-size="23.30" letter-spacing="-0.7">0.2</text>
<text transform="translate(411.30,450.96) scale(1,1.000)" text-anchor="end" font-size="23.30" letter-spacing="-0.7">0.4</text>
<text transform="translate(411.30,399.42) scale(1,1.000)" text-anchor="end" font-size="23.30" letter-spacing="-0.7">0.6</text>
<text transform="translate(411.30,347.88) scale(1,1.000)" text-anchor="end" font-size="23.30" letter-spacing="-0.7">0.8</text>
<text transform="translate(411.30,296.34) scale(1,1.000)" text-anchor="end" font-size="23.30" letter-spacing="-0.7">1</text>
<text transform="translate(414.20,567.38) scale(1,1.000)" text-anchor="middle" font-size="23.30" letter-spacing="-0.7">0</text>
<text transform="translate(467.64,567.38) scale(1,1.000)" text-anchor="middle" font-size="23.30" letter-spacing="-0.7">2</text>
<text transform="translate(519.18,567.38) scale(1,1.000)" text-anchor="middle" font-size="23.30" letter-spacing="-0.7">4</text>
<text transform="translate(570.62,567.38) scale(1,1.000)" text-anchor="middle" font-size="23.30" letter-spacing="-0.7">6</text>
<text transform="translate(621.46,567.38) scale(1,1.000)" text-anchor="middle" font-size="23.30" letter-spacing="-0.7">8</text>
<text transform="translate(675.20,567.38) scale(1,1.000)" text-anchor="middle" font-size="23.30" letter-spacing="-0.7">10</text>
<text transform="translate(620.90,531.40) scale(1,1.000)" text-anchor="start" font-size="25.60" >(d)</text>
<text transform="translate(18.20,158.80) rotate(-90)" font-size="29.50" font-style="italic" textLength="18.60" lengthAdjust="spacingAndGlyphs">E</text>
<text transform="translate(22.20,141.10) rotate(-90)" font-size="18.00" textLength="21.00" lengthAdjust="spacingAndGlyphs">gp</text>
<text transform="translate(367.50,157.20) rotate(-90)" font-size="31.00" font-style="italic" textLength="15.90" lengthAdjust="spacingAndGlyphs">J</text>
<path d="M343.6,134.6 L345.0,132.6 L354.2,137.9 L353.6,138.9 Z" fill="#000"/>
<text transform="translate(374.80,142.90) rotate(-90)" font-size="20.00" textLength="23.20" lengthAdjust="spacingAndGlyphs">gp</text>
<text transform="translate(22.00,415.60) rotate(-90)" font-size="29.00" font-style="italic" textLength="19.30" lengthAdjust="spacingAndGlyphs">F</text>
<text transform="translate(377.80,415.60) rotate(-90)" font-size="29.00" font-style="italic" textLength="19.30" lengthAdjust="spacingAndGlyphs">F</text>
<text x="179.3" y="594.3" font-size="29" font-style="italic">J</text>
<text x="541.5" y="588.2" font-size="29" font-style="italic" textLength="14.6" lengthAdjust="spacingAndGlyphs">r</text>
<text x="558.0" y="593.1" font-size="22.7" font-style="italic" textLength="12.4" lengthAdjust="spacingAndGlyphs">J</text>
</svg>
</body></html>
